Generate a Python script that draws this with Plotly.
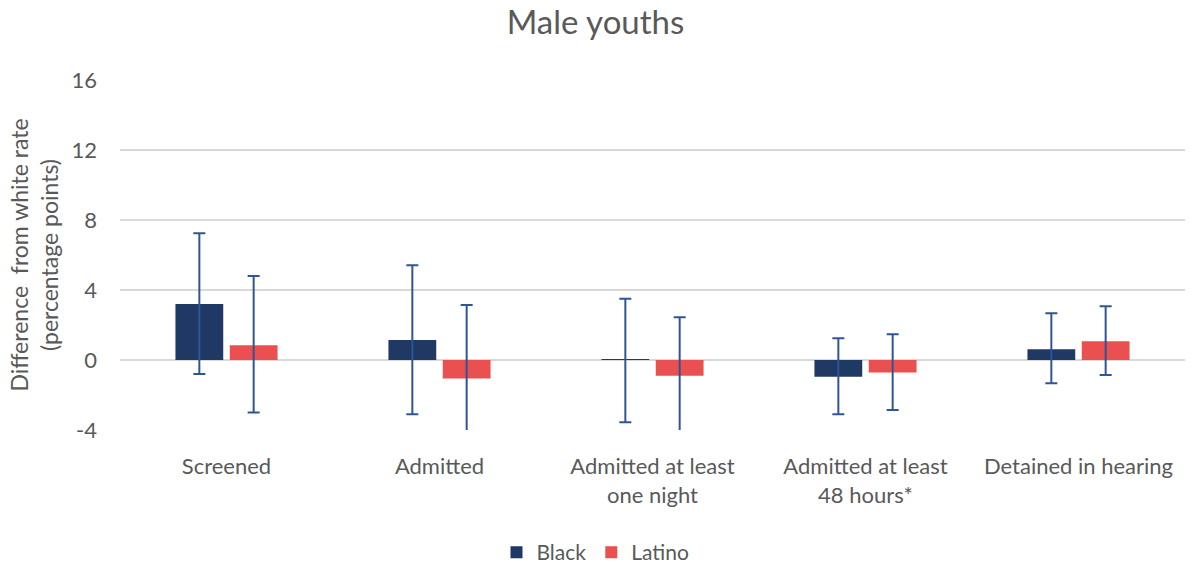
import plotly.graph_objects as go

categories = ["Screened", "Admitted", "Admitted at least<br>one night",
              "Admitted at least<br>48 hours*", "Detained in hearing"]

black_diff = [3.2, 1.15, 0.05, -0.95, 0.62]
black_low = [-0.8, -3.1, -3.55, -3.1, -1.33]
black_high = [7.25, 5.42, 3.5, 1.25, 2.67]

latino_diff = [0.85, -1.05, -0.9, -0.72, 1.07]
latino_low = [-3.0, -5.25, -4.25, -2.85, -0.85]
latino_high = [4.8, 3.15, 2.45, 1.47, 3.07]

tick_vals = [-4, 0, 4, 8, 12, 16]
tick_text = ["-4", "0", "4", "8", "12", "16"]

TEXT = "#595959"
ERR = "#2F5597"
FONT = "Lato, 'Noto Sans', sans-serif"


def err(diff, low, high):
    return dict(
        type="data", symmetric=False,
        array=[h - d for d, h in zip(diff, high)],
        arrayminus=[d - l for d, l in zip(diff, low)],
        color=ERR, thickness=2, width=6,
    )


fig = go.Figure()
fig.add_trace(go.Bar(
    name="Black", x=categories, y=black_diff,
    marker=dict(color="#1F3864", line=dict(width=0)),
    error_y=err(black_diff, black_low, black_high),
))
fig.add_trace(go.Bar(
    name="Latino", x=categories, y=latino_diff,
    marker=dict(color="#E9504F", line=dict(width=0)),
    error_y=err(latino_diff, latino_low, latino_high),
))

fig.update_layout(
    width=1191, height=567,
    paper_bgcolor="white", plot_bgcolor="white",
    margin=dict(l=120, r=6, t=80, b=137, autoexpand=False),
    font=dict(family=FONT, color=TEXT, size=22),
    title=dict(text="Male youths", x=0.5, xanchor="center", y=0.96,
               yanchor="middle", font=dict(size=33, color=TEXT)),
    barmode="group", bargap=0.49, bargroupgap=0.12,
    showlegend=True,
    legend=dict(orientation="h", xref="container", x=0.5, xanchor="center",
                y=-0.35, yanchor="middle", font=dict(size=21, color=TEXT),
                itemwidth=30, traceorder="normal"),
    xaxis=dict(showgrid=False, showline=False, ticks="", automargin=False,
               ticklabelstandoff=21,
               tickfont=dict(size=22, color=TEXT)),
    yaxis=dict(range=[-4, 16], tickvals=tick_vals, ticktext=tick_text,
               showgrid=True, automargin=False,
               gridcolor="#D9D9D9", gridwidth=1.5, zeroline=True,
               zerolinecolor="#D9D9D9", zerolinewidth=1.5, showline=False,
               ticks="", ticklabelstandoff=22,
               tickfont=dict(size=22, color=TEXT),
               title=dict(text="Difference  from white rate<br>(percentage points)",
                          font=dict(size=23, color=TEXT), standoff=6)),
)

fig.write_html("out.html")
